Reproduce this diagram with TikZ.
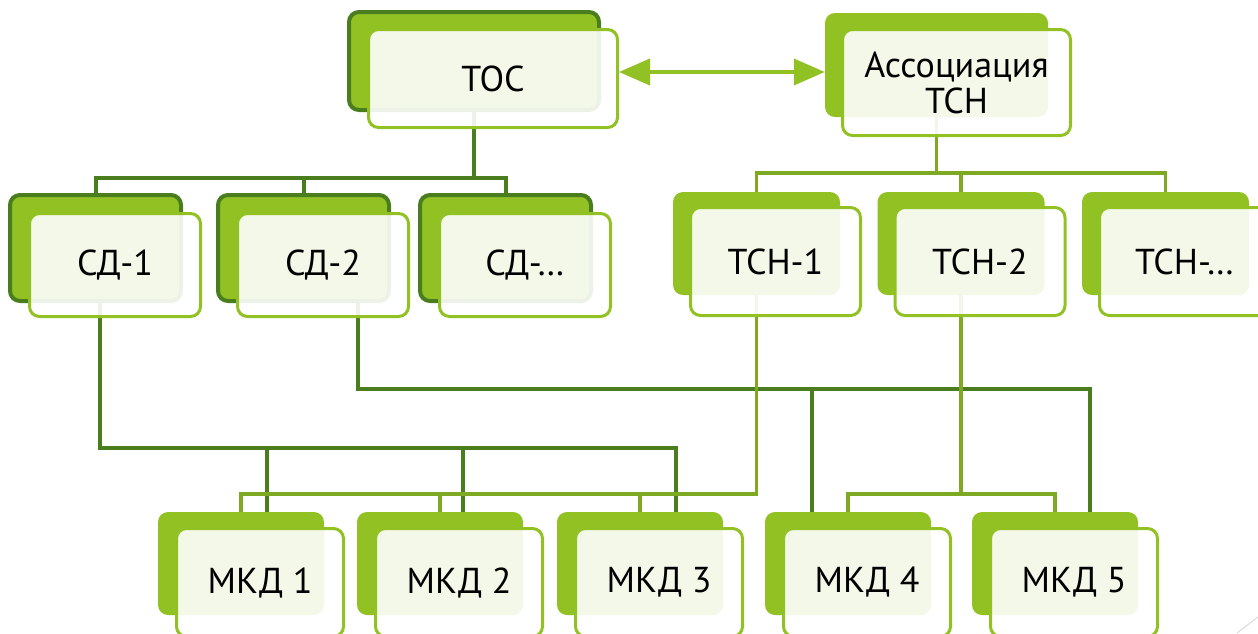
\documentclass[tikz,border=0pt]{standalone}
\usepackage{fontspec}
\setmainfont{PT Sans}
\usepackage{tikz}
\usetikzlibrary{shapes,arrows.meta,backgrounds,positioning}
\definecolor{boxlime}{RGB}{146,193,36}
\definecolor{boxdark}{RGB}{74,125,30}
\definecolor{linelime}{RGB}{126,169,34}
\tikzset{
  box/.style = {rectangle, rounded corners=10pt, inner sep=0pt},
  back_n/.style = {box, fill=boxlime, draw=boxdark, line width=4pt},% back, dark edge
  back_l/.style = {box, fill=boxlime},% back, no edge
  front/.style = {box, draw=boxlime, line width=3pt, fill=white,
    fill opacity=0.9, text opacity=1, align=center,
    font=\fontsize{36}{36}\selectfont},% front card with text
  sd_b/.style = {back_n, minimum width=171pt, minimum height=106pt},
  sd_f/.style = {front, minimum width=171pt, minimum height=103pt},
  tsn_b/.style = {back_l, minimum width=167pt, minimum height=103pt},
  tsn_f/.style = {front, minimum width=170pt, minimum height=108pt},
  mkd_b/.style = {back_l, minimum width=166pt, minimum height=103pt},
  mkd_f/.style = {front, minimum width=167pt, minimum height=108pt},
  dark_c/.style = {draw=boxdark, line width=4pt},
  light_c/.style = {draw=linelime, line width=3.5pt},
  link/.style = {<->, >={Triangle[length=31pt, width=26pt]}, draw=boxlime,
    fill=boxlime, line width=4pt}
}

\begin{document}
\begin{tikzpicture}[x=1pt, y=-1pt]
        \useasboundingbox (0,0) rectangle (1258,633);

        % top
        \node [back_n, minimum width=250pt, minimum height=98pt] (tosB) at (474,61) {};
        \node [front, minimum width=249pt, minimum height=98pt] (tosF) at (493,78.5) {ТОС};
        \node [back_l, minimum width=223pt, minimum height=104pt] (assB) at (936.5,65) {};
        \node [front, minimum width=228pt, minimum height=106pt] (assF) at (956.5,82.5) {Ассоциация\\ТСН};

        % СД
        \node [sd_b] (sd1B) at (95.5,248) {};
        \node [sd_f] (sd1F) at (115,265) {СД-1};
        \node [sd_b] (sd2B) at (303.5,248) {};
        \node [sd_f] (sd2F) at (323,265) {СД-2};
        \node [sd_b] (sd3B) at (505.5,248) {};
        \node [sd_f] (sd3F) at (525,265) {СД-…};

        % ТСН
        \node [tsn_b] (tsn1B) at (756.5,243.5) {};
        \node [tsn_f] (tsn1F) at (775.5,261.5) {ТСН-1};
        \node [tsn_b] (tsn2B) at (961,243.5) {};
        \node [tsn_f] (tsn2F) at (980,261.5) {ТСН-2};
        \node [tsn_b] (tsn3B) at (1165.5,243.5) {};
        \node [tsn_f] (tsn3F) at (1184.5,261.5) {ТСН-…};

        % МКД
        \node [mkd_b] (mkd1B) at (241,563.5) {};
        \node [mkd_f] (mkd1F) at (260,582.5) {МКД 1};
        \node [mkd_b] (mkd2B) at (440,563.5) {};
        \node [mkd_f] (mkd2F) at (459,582.5) {МКД 2};
        \node [mkd_b] (mkd3B) at (640,563.5) {};
        \node [mkd_f] (mkd3F) at (659,582.5) {МКД 3};
        \node [mkd_b] (mkd4B) at (848,563.5) {};
        \node [mkd_f] (mkd4F) at (867,582.5) {МКД 4};
        \node [mkd_b] (mkd5B) at (1055,563.5) {};
        \node [mkd_f] (mkd5F) at (1074,582.5) {МКД 5};

        \coordinate (arrY) at (0,72);
        \coordinate (bus0) at (0,178);
        \coordinate (bus1) at (0,173);
        \coordinate (bus2) at (0,448);
        \coordinate (bus3) at (0,389);
        \coordinate (bus4) at (0,494);

        \draw [link] (tosF.east |- arrY) -- (assB.west |- arrY);

        \begin{scope}[on background layer]
        \draw [dark_c] (tosB.south) -- (tosB.south |- bus0);
        \draw [dark_c] (sd1B.north) |- (sd3B.north |- bus0) -- (sd3B.north);
        \draw [dark_c] (sd2B.north) -- (sd2B.north |- bus0);

        \draw [light_c] (assB.south) -- (assB.south |- bus1);
        \draw [light_c] (tsn1B.north) |- (tsn3B.north |- bus1) -- (tsn3B.north);
        \draw [light_c] (tsn2B.north) -- (tsn2B.north |- bus1);

        \draw [dark_c] ([xshift=4.5pt]sd1B.south) |- ([xshift=36pt]mkd3B.north |- bus2) -- ([xshift=36pt]mkd3B.north);
        \draw [dark_c] ([xshift=26pt]mkd1B.north) -- ([xshift=26pt]mkd1B.north |- bus2);
        \draw [dark_c] ([xshift=23pt]mkd2B.north) -- ([xshift=23pt]mkd2B.north |- bus2);

        \draw [dark_c] ([xshift=54.5pt]sd2B.south) |- ([xshift=35pt]mkd5B.north |- bus3) -- ([xshift=35pt]mkd5B.north);
        \draw [dark_c] ([xshift=-36pt]mkd4B.north) -- ([xshift=-36pt]mkd4B.north |- bus3);

        \draw [light_c] (tsn1B.south) |- (mkd1B.north |- bus4) -- ([yshift=-4pt]mkd1B.north);
        \draw [light_c] ([yshift=-4pt]mkd2B.north) -- (mkd2B.north |- bus4);
        \draw [light_c] ([yshift=-4pt]mkd3B.north) -- (mkd3B.north |- bus4);

        \draw [light_c] (tsn2B.south) -- (tsn2B.south |- bus4);
        \draw [light_c] ([yshift=-4pt]mkd4B.north) |- (mkd5B.north |- bus4) -- ([yshift=-4pt]mkd5B.north);
        \end{scope}

        \draw [black!15, line width=1pt] (1237,633) -- (1258,617);

        \end{tikzpicture}
\end{document}
